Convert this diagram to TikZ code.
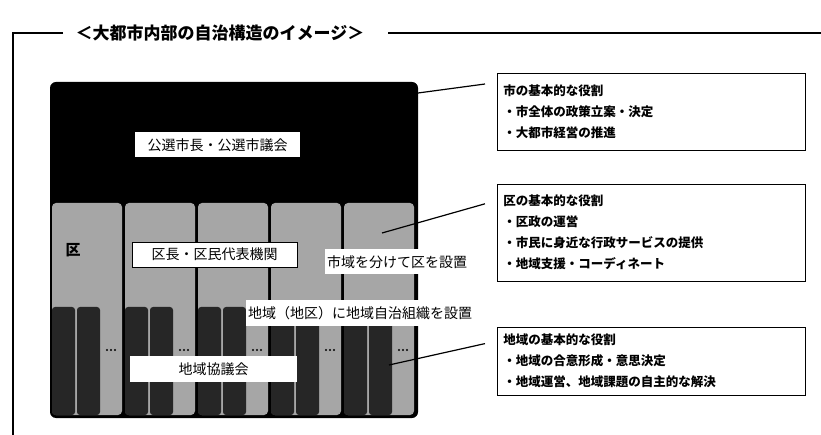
\documentclass[tikz,border=0pt]{standalone}
\usepackage{fontspec}
\setmainfont{Noto Sans CJK JP}
\usetikzlibrary{positioning}

\begin{document}
\begin{tikzpicture}[x=1pt,y=-1pt,
	role/.style={draw,line width=0.8pt,inner xsep=6pt,text width=296pt,align=left,font=\bfseries\fontsize{12.5}{21}\selectfont},
	organ/.style={fill=white,minimum width=165pt,minimum height=25pt,inner sep=0pt,font=\fontsize{14}{14}\selectfont},
	note/.style={fill=white,inner sep=2pt,minimum height=25pt,font=\fontsize{14}{14}\selectfont},
	pillar/.style={fill=black!85,rounded corners=3pt},
	link/.style={line width=1.2pt}]
	\useasboundingbox (0,0) rectangle (821,435);
	% title and frame
	\node[font=\bfseries\fontsize{17}{17}\selectfont] (title) at (220,33) {＜大都市内部の自治構造のイメージ＞};
	\draw[line width=1.3pt] (63,33) -- (13,33) -- (13,435);
	\draw[line width=1.3pt] (388,33) -- (821,33);
	% city, wards, areas
	\fill[rounded corners=6pt] (50,82) rectangle (418,418);
	\foreach \x in {52,125,198,271,344} {
		\fill[black!35,rounded corners=4pt] (\x,203) rectangle +(70,212);
		\fill[pillar] (\x,307) rectangle +(23,108);
		\fill[pillar] (\x,307) ++(25,0) rectangle +(23,108);
		\foreach \d in {55,59,63} \fill (\x,350) ++(\d,0) circle (1.2pt);
	}
	\node[organ] (mayor) at (217.5,145) {公選市長・公選市議会};
	\node[organ,draw,line width=0.8pt] (ward) at (214.5,254.5) {区長・区民代表機関};
	\node[organ,minimum width=167pt,minimum height=26pt] (council) at (213.5,369) {地域協議会};
	\node[font=\bfseries\fontsize{15}{15}\selectfont] (wardname) at (73,250) {区};
	\node[note,anchor=west] (split) at (325,262) {市域を分けて区を設置};
	\node[note,anchor=west] (setup) at (246,313) {地域（地区）に地域自治組織を設置};
	% roles
	\node[role,minimum height=77pt,anchor=north west] (cityrole) at (497,73)
		{市の基本的な役割\\・市全体の政策立案・決定\\・大都市経営の推進};
	\node[role,minimum height=97pt,below=33pt of cityrole] (wardrole)
		{区の基本的な役割\\・区政の運営\\・市民に身近な行政サービスの提供\\・地域支援・コーディネート};
	\node[role,minimum height=68pt,below=45pt of wardrole] (arearole)
		{地域の基本的な役割\\・地域の合意形成・意思決定\\・地域運営、地域課題の自主的な解決};
	\coordinate (citypt) at (418,93);
	\coordinate (wardpt) at (382,233);
	\coordinate (areapt) at (389,365);
	\draw[link] (citypt) -- ([xshift=-12pt,yshift=-11pt]cityrole.north west);
	\draw[link] (wardpt) -- ([xshift=-12pt,yshift=-20pt]wardrole.north west);
	\draw[link] (areapt) -- ([xshift=-12pt,yshift=-17pt]arearole.north west);
\end{tikzpicture}
\end{document}
